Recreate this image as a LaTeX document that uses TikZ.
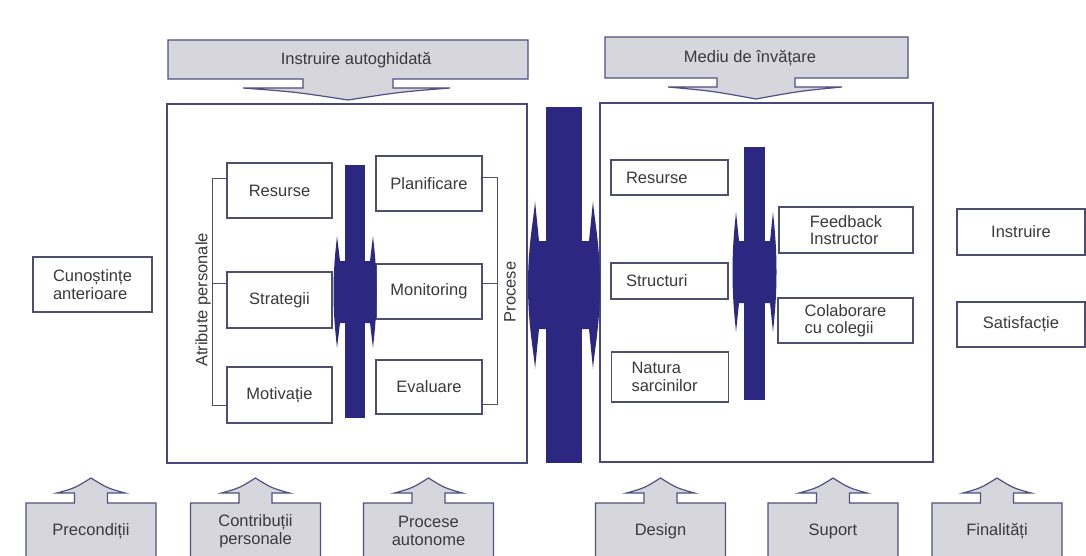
\documentclass[tikz,border=0pt]{standalone}
\usepackage{fontspec}
\setmainfont{Liberation Sans}
\definecolor{navy}{RGB}{44,40,130}
\definecolor{boxline}{RGB}{78,78,110}
\definecolor{panelline}{RGB}{72,72,125}
\definecolor{callfill}{RGB}{214,214,220}
\definecolor{callline}{RGB}{80,80,132}
\definecolor{txtc}{RGB}{58,58,62}
\newcommand\dblarr[7]{%
\fill[navy] ({#1-#3},#2) .. controls ({#1-#3},{#2-0.5*#5}) and ({#1-#4-1},{#2-0.8*#5}) .. ({#1-#4},{#2-#5}) -- ({#1-#4+#7},{#2-#6}) -- ({#1+#4-#7},{#2-#6}) -- ({#1+#4},{#2-#5}) .. controls ({#1+#4+1},{#2-0.8*#5}) and ({#1+#3},{#2-0.5*#5}) .. ({#1+#3},#2) .. controls ({#1+#3},{#2+0.5*#5}) and ({#1+#4+1},{#2+0.8*#5}) .. ({#1+#4},{#2+#5}) -- ({#1+#4-#7},{#2+#6}) -- ({#1-#4+#7},{#2+#6}) -- ({#1-#4},{#2+#5}) .. controls ({#1-#4-1},{#2+0.8*#5}) and ({#1-#3},{#2+0.5*#5}) .. cycle;}
\newcommand\upcall[3]{%
\filldraw[callout] ({#1-65},558) -- ({#1-65},503) -- ({#1-16.5},503) -- ({#1-16.5},493) -- ({#1-34},493) .. controls ({#1-16},488) .. (#1,478) .. controls ({#1+16},488) .. ({#1+34},493) -- ({#1+16.5},493) -- ({#1+16.5},503) -- ({#1+65},503) -- ({#1+65},558) -- cycle;
\node[txt] (#2) at (#1,531) {#3};}
\begin{document}
\begin{tikzpicture}[x=1pt,y=-1pt,
  txt/.style={font=\fontsize{16.5}{17.5}\selectfont, text=txtc, align=center, inner sep=0pt},
  wbox/.style={txt, draw=boxline, line width=1.2pt, fill=white},
  panel/.style={draw=panelline, line width=1.4pt, fill=white, inner sep=0pt},
  brk/.style={draw=boxline, line width=1pt},
  callout/.style={fill=callfill, draw=callline, line width=1.2pt, line join=miter}]
\useasboundingbox (0,0) rectangle (1086,556);
\fill[white] (0,0) rectangle (1086,556);

% top callouts
\filldraw[callout] (168,40) -- (528,40) -- (528,79) -- (393,79) -- (393,88) -- (450,88) .. controls (400,92) .. (348,100) .. controls (296,92) .. (243,88) -- (303,88) -- (303,79) -- (168,79) -- cycle;
\node[txt] (topL) at (356,60) {Instruire autoghidată};
\filldraw[callout] (605,37) -- (908,37) -- (908,78) -- (795,78) -- (795,87) -- (842,87) .. controls (800,91) .. (756,99) .. controls (712,91) .. (668,87) -- (717,87) -- (717,78) -- (605,78) -- cycle;
\node[txt] (topR) at (750,58) {Mediu de învățare};

% panels
\node[panel, minimum width=360pt, minimum height=359pt] (panelL) at (347,283.5) {};
\node[panel, minimum width=333pt, minimum height=359pt] (panelR) at (766.5,282.5) {};

% left panel
\node[wbox, minimum width=105pt, minimum height=55pt] (resL) at (279.5,190.5) {Resurse};
\node[wbox, minimum width=105pt, minimum height=56pt] (strL) at (279.5,300) {Strategii};
\node[wbox, minimum width=105pt, minimum height=56pt] (motL) at (279.5,395) {Motivație};
\node[wbox, minimum width=106pt, minimum height=55pt] (plan) at (429,183.5) {Planificare};
\node[wbox, minimum width=106pt, minimum height=55pt] (mon) at (429,291.5) {Monitoring};
\node[wbox, minimum width=106pt, minimum height=54pt] (eval) at (429,387) {Evaluare};
\draw[brk] ([yshift=11.5pt]resL.west) -- ++(-14,0) |- ([yshift=-10pt]motL.west);
\draw[brk] ([yshift=17pt]strL.west) -- ++(-14,0);
\draw[brk] ([yshift=5.5pt]plan.east) -- ++(15,0) |- ([yshift=-17pt]eval.east);
\draw[brk] ([yshift=8.5pt]mon.east) -- ++(15,0);
\node[txt, rotate=90] (atrib) at (203,300) {Atribute personale};
\node[txt, rotate=90] (proc) at (510,292) {Procese};

% bars and double arrows
\fill[navy] (345,165) rectangle (365,418);
\dblarr{355}{292}{21.5}{18}{56}{31}{3}
\fill[navy] (546,107) rectangle (582,463);
\dblarr{564}{285}{36}{29}{84}{44}{4}
\fill[navy] (744,147) rectangle (765,400);
\dblarr{754.5}{272}{22}{18.5}{60}{31}{3}

% right panel
\node[wbox, minimum width=117pt, minimum height=35pt, text width=87pt, align=left, inner xsep=15pt] (resR) at (669.5,177.5) {Resurse};
\node[wbox, minimum width=117pt, minimum height=36pt, text width=87pt, align=left, inner xsep=15pt] (strR) at (669.5,281) {Structuri};
\node[wbox, minimum width=117pt, minimum height=50pt, text width=77pt, align=left, inner xsep=20pt] (natR) at (670,377) {Natura\\sarcinilor};
\node[wbox, minimum width=134pt, minimum height=46pt, align=left] (feed) at (846,230) {Feedback\\Instructor};
\node[wbox, minimum width=135pt, minimum height=45pt, align=left] (colab) at (845.5,320.5) {Colaborare\\cu colegii};

% outer column boxes
\node[wbox, minimum width=119pt, minimum height=55pt, align=left] (cun) at (92.5,284.5) {Cunoștințe\\anterioare};
\node[wbox, minimum width=128pt, minimum height=46pt] (instr) at (1021,232) {Instruire};
\node[wbox, minimum width=128pt, minimum height=45pt] (satis) at (1021,324.5) {Satisfacție};

% bottom callouts
\upcall{91}{precond}{Precondiții}
\upcall{255.5}{contrib}{Contribuții\\personale}
\upcall{428.5}{procaut}{Procese\\autonome}
\upcall{660.5}{design}{Design}
\upcall{833}{suport}{Suport}
\upcall{997}{final}{Finalități}
\end{tikzpicture}
\end{document}
